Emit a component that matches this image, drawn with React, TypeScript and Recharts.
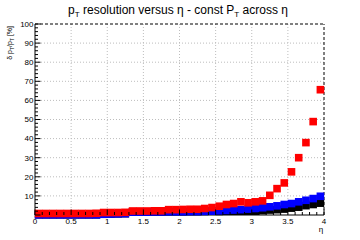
import React from 'react';
import { ScatterChart, Scatter, XAxis, YAxis, CartesianGrid, ReferenceLine } from 'recharts';

// eta bin centres
const ETA = [
  0.05, 0.15, 0.25, 0.35, 0.45, 0.55, 0.65, 0.75, 0.85, 0.95,
  1.05, 1.15, 1.25, 1.35, 1.45, 1.55, 1.65, 1.75, 1.85, 1.95,
  2.05, 2.15, 2.25, 2.35, 2.45, 2.55, 2.65, 2.75, 2.85, 2.95,
  3.05, 3.15, 3.25, 3.35, 3.45, 3.55, 3.65, 3.75, 3.85, 3.95,
];

const RED = [
  0.8, 0.8, 0.8, 0.8, 0.8, 0.8, 0.8, 0.8, 0.9, 1.3,
  1.3, 1.3, 1.4, 2.1, 2.1, 2.1, 2.2, 2.2, 2.8, 2.8,
  2.9, 3.0, 3.0, 3.4, 3.9, 4.6, 5.5, 6.0, 6.9, 6.4,
  6.9, 7.4, 10.3, 13.8, 16.8, 22.6, 30.0, 37.9, 48.9, 65.6,
];

const BLUE = [
  0.1, 0.1, 0.1, 0.1, 0.1, 0.1, 0.1, 0.1, 0.1, 0.4,
  0.5, 0.6, 0.7, 1.5, 1.5, 1.5, 1.6, 1.6, 1.7, 1.7,
  1.7, 1.8, 1.8, 1.9, 2.0, 2.2, 2.4, 2.6, 2.8, 3.1,
  3.4, 3.8, 4.3, 4.8, 5.5, 6.0, 6.9, 7.7, 8.6, 9.8,
];

const BLACK = [
  0.1, 0.1, 0.1, 0.1, 0.1, 0.1, 0.1, 0.1, 0.1, 0.4,
  0.5, 0.6, 0.7, 1.5, 1.5, 1.5, 1.6, 1.6, 1.7, 1.7,
  1.7, 1.8, 1.8, 1.9, 2.0, 1.9, 2.0, 2.0, 2.0, 2.0,
  2.0, 2.3, 2.6, 2.8, 3.1, 3.6, 4.1, 4.9, 5.5, 6.2,
];

const X_TICKS = Array.from({ length: 41 }, (_, i) => i / 10);
const Y_TICKS = Array.from({ length: 51 }, (_, i) => i * 2);
const X_GRID = [0.5, 1, 1.5, 2, 2.5, 3, 3.5];
const Y_GRID = [10, 20, 30, 40, 50, 60, 70, 80, 90];

const toPoints = (vals: number[]) => ETA.map((eta, i) => ({ eta, v: vals[i] }));

const FONT = '"Liberation Sans", Arial, sans-serif';

const square = (color: string) => (props: any) => (
  <rect x={props.cx - 3.8} y={props.cy - 3.8} width={7.6} height={7.6} fill={color} />
);

const XTick = (props: any) => {
  const { x, y, payload } = props;
  const v = payload.value;
  const major = Math.round(v * 10) % 5 === 0;
  return (
    <g>
      <line x1={x} y1={y} x2={x} y2={y - (major ? 5.5 : 3)} stroke="#000" />
      {major && (
        <text x={x} y={y + 8.5} textAnchor="middle" fontSize={8} fontFamily={FONT} fill="#000">
          {String(v)}
        </text>
      )}
    </g>
  );
};

const YTick = (props: any) => {
  const { x, y, payload } = props;
  const v = payload.value;
  const major = v % 10 === 0;
  return (
    <g>
      <line x1={x} y1={y} x2={x + (major ? 5.5 : 3)} y2={y} stroke="#000" />
      {major && v !== 0 && (
        <text x={x - 1.5} y={y + 2.8} textAnchor="end" fontSize={8} fontFamily={FONT} fill="#000">
          {v}
        </text>
      )}
    </g>
  );
};

export default function App() {
  return (
    <div style={{ position: 'fixed', left: 0, top: 0, width: 360, height: 240, background: '#fff' }}>
      <ScatterChart width={360} height={240} margin={{ top: 24, right: 36, bottom: 0, left: 0 }}>
        <CartesianGrid
          stroke="#bdbdbd"
          strokeDasharray="1 2"
          horizontalValues={Y_GRID}
          verticalValues={X_GRID}
        />
        <XAxis
          type="number"
          dataKey="eta"
          domain={[0, 4]}
          ticks={X_TICKS}
          interval={0}
          height={25}
          tickSize={0}
          tickMargin={0}
          axisLine={{ stroke: '#000' }}
          tick={<XTick />}
        />
        <YAxis
          type="number"
          dataKey="v"
          domain={[0, 100]}
          ticks={Y_TICKS}
          interval={0}
          width={35}
          tickSize={0}
          tickMargin={0}
          axisLine={{ stroke: '#000' }}
          tick={<YTick />}
        />
        <ReferenceLine y={100} stroke="#000" strokeDasharray="3 2" />
        <ReferenceLine x={4} stroke="#000" strokeDasharray="3 2" />
        <Scatter data={toPoints(BLACK)} shape={square('#000000')} isAnimationActive={false} />
        <Scatter data={toPoints(BLUE)} shape={square('#0000ff')} isAnimationActive={false} />
        <Scatter data={toPoints(RED)} shape={square('#ff0000')} isAnimationActive={false} />
      </ScatterChart>
      <svg
        width={360}
        height={240}
        style={{ position: 'absolute', left: 0, top: 0, pointerEvents: 'none' }}
        fontFamily={FONT}
      >
        <text x={178} y={13.5} textAnchor="middle" fontSize={12} fill="#000">
          p<tspan dy={3} fontSize={8}>T</tspan>
          <tspan dy={-3}> resolution versus η - const P</tspan>
          <tspan dy={3} fontSize={8}>T</tspan>
          <tspan dy={-3}> across η</tspan>
        </text>
        <text transform="translate(12, 26) rotate(-90)" textAnchor="end" fontSize={7} fill="#000">
          δ p<tspan dy={2} fontSize={5}>T</tspan>
          <tspan dy={-2}>/p</tspan>
          <tspan dy={2} fontSize={5}>T</tspan>
          <tspan dy={-2}> [%]</tspan>
        </text>
        <text x={321} y={232} textAnchor="middle" fontSize={8} fill="#000">
          η
        </text>
      </svg>
    </div>
  );
}
